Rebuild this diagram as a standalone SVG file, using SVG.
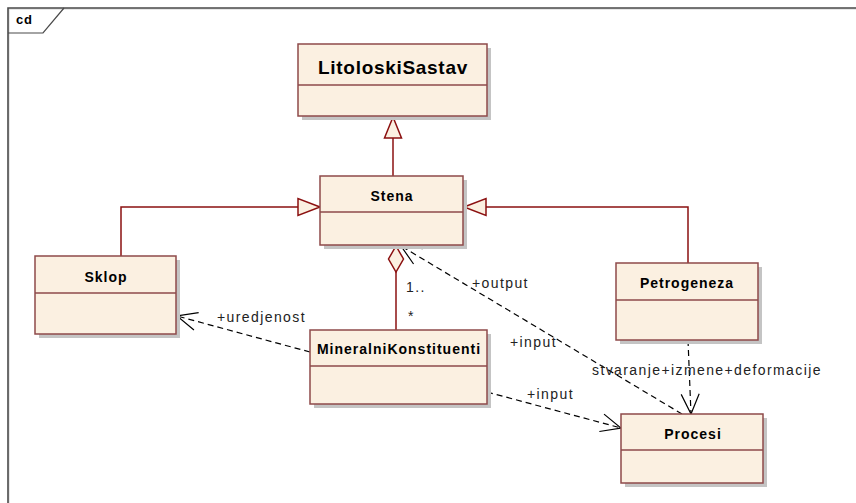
<svg xmlns="http://www.w3.org/2000/svg" width="856" height="503" viewBox="0 0 856 503">
<defs>
<style>
.box{fill:#fbf0e1;stroke:#8e4a4a;stroke-width:1.5}
.shadow{fill:#c4c4c4}
.div{stroke:#8e4a4a;stroke-width:1.5}
.name{font-family:"Liberation Sans",Arial,sans-serif;font-weight:bold;font-size:14px;letter-spacing:1px;fill:#000;text-anchor:middle}
.lbl{font-family:"Liberation Sans",Arial,sans-serif;font-size:14px;letter-spacing:1.4px;fill:#222}
.gen{fill:none;stroke:#8b1010;stroke-width:1.5}
.dep{fill:none;stroke:#000;stroke-width:1.2;stroke-dasharray:6 4}
</style>
<marker id="open" viewBox="-22 -11 24 22" refX="0" refY="0" markerWidth="24" markerHeight="22" markerUnits="userSpaceOnUse" orient="auto">
<path d="M-20,-9 L0,0 L-20,9" fill="none" stroke="#000" stroke-width="1.2"/>
</marker>
</defs>
<rect width="856" height="503" fill="#fff"/>
<g id="frame">
<path d="M8,503 V8 H856" fill="none" stroke="#cfcfcf" stroke-width="1" transform="translate(1,1)"/>
<path d="M8,503 V8 H856" fill="none" stroke="#4a4a4a" stroke-width="1.6"/>
<path d="M8,33 H43 L64,8" fill="none" stroke="#4a4a4a" stroke-width="1.2"/>
<text x="16" y="24" font-family="Liberation Sans,Arial,sans-serif" font-weight="bold" font-size="13" letter-spacing="0.8">cd</text>
</g>
<g id="connectors">
<path class="gen" d="M393,176 V138"/>
<path d="M393,117 L384.5,138 H401.5 Z" fill="#fbf0e1" stroke="#8b1010" stroke-width="1.5"/>
<path class="gen" d="M121,256 V207 H298"/>
<path d="M320,207 L298,198.5 V215.5 Z" fill="#fbf0e1" stroke="#8b1010" stroke-width="1.5"/>
<path class="gen" d="M688,263 V207 H486"/>
<path d="M464,207 L486,198.5 V215.5 Z" fill="#fbf0e1" stroke="#8b1010" stroke-width="1.5"/>
<path class="gen" d="M396,272 V330"/>
<path d="M396,246 L403.5,259 L396,272 L388.5,259 Z" fill="#fbf0e1" stroke="#8b1010" stroke-width="1.5"/>
<path class="dep" d="M310,352 L177,316" marker-end="url(#open)"/>
<path class="dep" d="M682,414 L401,246" marker-end="url(#open)"/>
<path class="dep" d="M688,340 L691,414" marker-end="url(#open)"/>
<path class="dep" d="M487,392 L621,428" marker-end="url(#open)"/>
<text class="lbl" x="217" y="322">+uredjenost</text>
<text class="lbl" x="406" y="292">1..</text>
<text class="lbl" x="408" y="321">*</text>
<text class="lbl" x="472" y="288">+output</text>
<text class="lbl" x="510" y="347">+input</text>
<text class="lbl" x="592" y="375">stvaranje+izmene+deformacije</text>
<text class="lbl" x="527" y="399">+input</text>
</g>
<g id="LitoloskiSastav">
<rect class="shadow" x="302" y="48" width="189" height="72"/>
<rect class="box" x="298" y="44" width="189" height="72"/>
<line class="div" x1="298" y1="85" x2="487" y2="85"/>
<text class="name" x="393" y="74" style="font-size:19px;letter-spacing:0.7px">LitoloskiSastav</text>
</g>
<g id="Stena">
<rect class="shadow" x="324" y="180" width="143" height="69"/>
<rect class="box" x="320" y="176" width="143" height="69"/>
<line class="div" x1="320" y1="212" x2="463" y2="212"/>
<text class="name" x="392" y="201">Stena</text>
</g>
<g id="Sklop">
<rect class="shadow" x="39" y="260" width="141" height="78"/>
<rect class="box" x="35" y="256" width="141" height="78"/>
<line class="div" x1="35" y1="293" x2="176" y2="293"/>
<text class="name" x="106" y="282">Sklop</text>
</g>
<g id="MineralniKonstituenti">
<rect class="shadow" x="314" y="334" width="177" height="74"/>
<rect class="box" x="310" y="330" width="177" height="74"/>
<line class="div" x1="310" y1="366" x2="487" y2="366"/>
<text class="name" x="399" y="354">MineralniKonstituenti</text>
</g>
<g id="Petrogeneza">
<rect class="shadow" x="620" y="267" width="142" height="77"/>
<rect class="box" x="616" y="263" width="142" height="77"/>
<line class="div" x1="616" y1="300" x2="758" y2="300"/>
<text class="name" x="687" y="288">Petrogeneza</text>
</g>
<g id="Procesi">
<rect class="shadow" x="625" y="418" width="142" height="69"/>
<rect class="box" x="621" y="414" width="142" height="69"/>
<line class="div" x1="621" y1="450" x2="763" y2="450"/>
<text class="name" x="693" y="439">Procesi</text>
</g>
</svg>
